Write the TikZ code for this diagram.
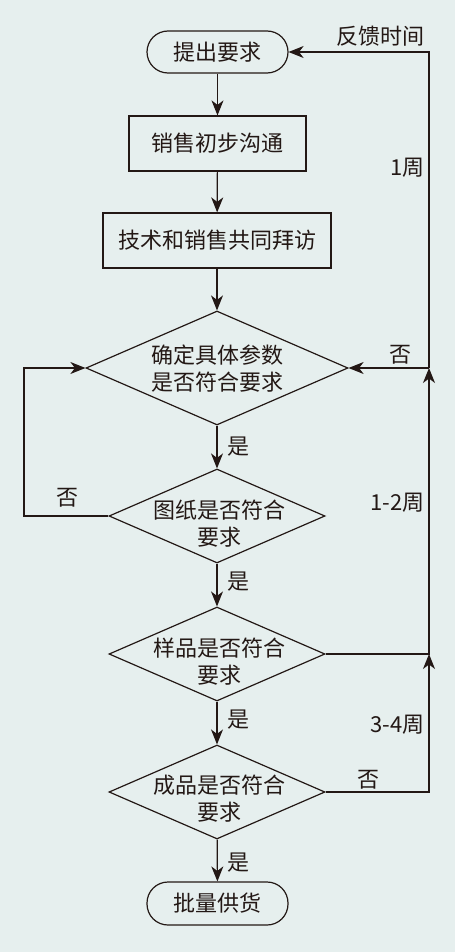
\documentclass[tikz,border=0pt]{standalone}
\usepackage{fontspec}
\setmainfont{Noto Sans CJK SC}
\usetikzlibrary{shapes.geometric,arrows.meta}
\definecolor{bg}{RGB}{230,239,238}
\definecolor{ink}{RGB}{35,24,21}
\begin{document}
\begin{tikzpicture}[x=1pt,y=-1pt,
  base/.style={draw=ink, line width=1.2pt, text=ink, font=\fontsize{22pt}{27pt}\selectfont, inner sep=0pt},
  term/.style={base, rectangle, rounded corners=21pt, minimum width=141pt, minimum height=42pt},
  proc/.style={base, rectangle, minimum height=55pt},
  dia/.style={base, diamond, minimum width=216pt, minimum height=94pt},
  txt/.style={text=ink, font=\fontsize{22pt}{27pt}\selectfont, align=center, inner sep=0pt},
  conn/.style={draw=ink, line width=1.2pt},
  arr/.style={conn, -{Stealth[length=15pt,width=12pt,inset=4.5pt]}}]
\fill[bg] (0,0) rectangle (455,952);
\useasboundingbox (0,0) rectangle (455,952);
\coordinate (rx) at (429,0);
\coordinate (lx) at (24,0);
\node[term] (start) at (217.5,52) {提出要求};
\node[proc, minimum width=177pt] (s1) at (217.5,143.5) {销售初步沟通};
\node[proc, minimum width=228pt] (s2) at (217,240.5) {技术和销售共同拜访};
\node[dia, minimum width=262pt, minimum height=114pt] (d1) at (217,368) {};
\node[txt] (d1t) at (217.5,368.5) {确定具体参数\\是否符合要求};
\node[dia] (d2) at (217,516) {};
\node[txt] (d2t) at (219,524) {图纸是否符合\\要求};
\node[dia] (d3) at (217,654) {};
\node[txt] (d3t) at (219,662) {样品是否符合\\要求};
\node[dia] (d4) at (217,792) {};
\node[txt] (d4t) at (219,799) {成品是否符合\\要求};
\node[term, minimum height=43pt] (end) at (217.5,903.5) {批量供货};
\draw[arr] (start) -- (s1);
\draw[arr] (s1) -- (s2);
\draw[arr] (s2) -- (d1);
\draw[arr] (d1) -- (d2);
\draw[arr] (d2) -- (d3);
\draw[arr] (d3) -- (d4);
\draw[arr] (d4) -- (end);
\draw[arr] (d2.west) -- (d2.west -| lx) -- (d1.west -| lx) -- (d1.west);
\draw[arr] (d4.east) -- (d4.east -| rx) -- (d3.east -| rx);
\draw[arr] (d3.east) -- (d3.east -| rx) -- (d1.east -| rx);
\draw[arr] (d1.east -| rx) -- (d1.east);
\draw[arr] (d1.east -| rx) -- (start.east -| rx) -- (start.east);
\node[txt] (lfb) at (380,36) {反馈时间};
\node[txt, anchor=east] (lw1) at (425,168) {1周};
\node[txt] (ln1) at (400,355) {否};
\node[txt] (ly1) at (238.5,447) {是};
\node[txt] (ln2) at (67,498) {否};
\node[txt, anchor=east] (lw2) at (425,503) {1-2周};
\node[txt] (ly2) at (238.5,582) {是};
\node[txt] (ly3) at (238.5,720) {是};
\node[txt, anchor=east] (lw3) at (425,725) {3-4周};
\node[txt] (ln4) at (368,780) {否};
\node[txt] (ly4) at (238.5,863) {是};
\end{tikzpicture}
\end{document}
